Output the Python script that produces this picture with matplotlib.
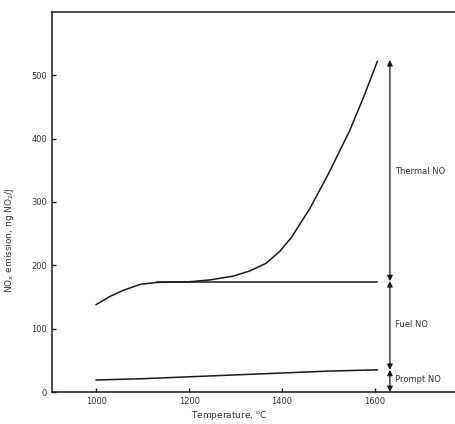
import matplotlib
matplotlib.use('Agg')
import matplotlib.pyplot as plt
import numpy as np

# curves
thermal_T = [1000, 1030, 1060, 1095, 1130, 1200, 1245, 1295, 1330, 1365,
             1395, 1420, 1460, 1500, 1545, 1575, 1605]
thermal_NO = [138, 151, 161, 170, 173, 174, 177, 183, 191, 203,
              222, 244, 290, 345, 412, 465, 522]

fuel_T = [1130, 1605]
fuel_NO = [174, 174]

prompt_T = [1000, 1100, 1200, 1300, 1400, 1500, 1605]
prompt_NO = [19, 21, 24, 27, 30, 33, 35]

# stacked contributions shown by the arrows on the right
arrow_T = 1632
levels = [0, 35, 175, 524]
labels = ['Prompt NO', 'Fuel NO', 'Thermal NO']
label_y = [19, 106, 348]

xticks = [1000, 1200, 1400, 1600]
yticks = [0, 100, 200, 300, 400, 500]

fig = plt.figure(figsize=(4.55, 4.24), dpi=100)
ax = fig.add_axes([52 / 455, 32 / 424, 403 / 455, 380 / 424])

lc = '#1a1a1a'
ax.plot(thermal_T, thermal_NO, color=lc, lw=1.1)
ax.plot(fuel_T, fuel_NO, color=lc, lw=1.1)
ax.plot(prompt_T, prompt_NO, color=lc, lw=1.1)

for i in range(len(labels)):
    ax.annotate('', xy=(arrow_T, levels[i + 1]), xytext=(arrow_T, levels[i]),
                arrowprops=dict(arrowstyle='<|-|>', color=lc, lw=0.9,
                                mutation_scale=8, shrinkA=0, shrinkB=0))
    ax.text(arrow_T + 11, label_y[i], labels[i], fontsize=6, color='#333333',
            va='center', ha='left')

ax.set_xlim(905, 1772)
ax.set_ylim(0, 600)
ax.set_xticks(xticks)
ax.set_yticks(yticks)
ax.tick_params(direction='in', length=3, width=1, labelsize=6,
               labelcolor='#333333', color=lc)
ax.spines['right'].set_visible(False)
for s in ['left', 'bottom', 'top']:
    ax.spines[s].set_linewidth(1.1)
    ax.spines[s].set_color(lc)

ax.set_xlabel('Temperature, $^{\\mathrm{o}}$C', fontsize=6.5, color='#333333')
ax.xaxis.set_label_coords(0.44, -0.045)
ax.set_ylabel('NO$_x$ emission, ng NO$_2$/J', fontsize=6.5, color='#333333')
ax.yaxis.set_label_coords(-0.09, 0.4)

fig.savefig('out.png', dpi=100)
